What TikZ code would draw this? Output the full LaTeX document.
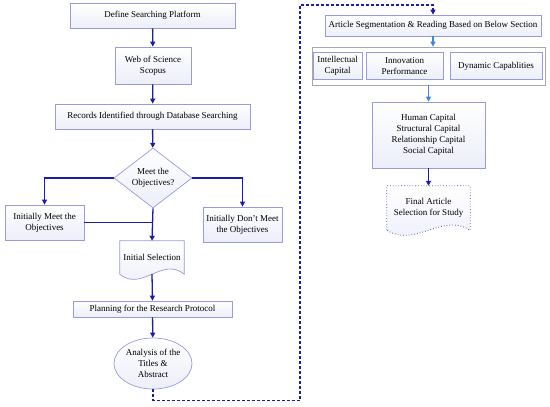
\documentclass[tikz,border=0pt]{standalone}
\usepackage{fontspec}
\setmainfont{Liberation Serif}
\usetikzlibrary{shapes.geometric, positioning, arrows.meta, shadows, backgrounds}
\definecolor{FlowBlue}{HTML}{1C1CA6}
\definecolor{FlowLight}{HTML}{3C8ADB}
\definecolor{BoxLine}{HTML}{9A9AE0}
\definecolor{BoxFill}{HTML}{ECEEF9}
\definecolor{GroupGray}{HTML}{A8A8A8}

% document outline behind a node: node, path options, wave offset
\newcommand{\docwave}[3]{%
  \begin{scope}[on background layer]
    \path[#2] (#1.south west) -- (#1.north west) -- (#1.north east) -- (#1.south east)
      .. controls +(-#3,-18) and +(#3,18) .. (#1.south west) -- cycle;
  \end{scope}}

\begin{document}
\begin{tikzpicture}[x=1pt, y=-1pt,
    box/.style={draw=BoxLine, line width=0.7pt, top color=white, bottom color=BoxFill,
      font=\fontsize{9}{11}\selectfont, align=center, inner sep=1pt},
    doctext/.style={font=\fontsize{9}{11}\selectfont, align=center, inner sep=1pt},
    flow/.style={-{Triangle[length=5pt,width=5pt]}, FlowBlue, line width=1.3pt},
    flowlight/.style={-{Triangle[length=5pt,width=5pt]}, FlowLight, line width=1.3pt},
    dashlink/.style={-{Triangle[length=5pt,width=5pt]}, FlowBlue, line width=1.1pt,
      dash pattern=on 3pt off 2pt}]
    \useasboundingbox (0,0) rectangle (550,407);

    % Left column
    \node[box, minimum width=165pt, minimum height=25pt] (define) at (152.5,15.5) {Define Searching Platform};
    
    \node[box, minimum width=76pt, minimum height=37pt] (wos) at (153,65.5) {Web of Science\\Scopus};
    
    \node[box, minimum width=195pt, minimum height=25pt] (records) at (152.5,116.5) {Records Identified through Database Searching};
    
    \node[box, diamond, aspect=1.3, inner sep=0pt, minimum width=78pt, minimum height=60pt] (meet) at (153,178) {Meet the\\Objectives?};
    
    \node[box, minimum width=79pt, minimum height=35pt] (initmeet) at (44.5,222.5) {Initially Meet the\\Objectives};
    
    \node[box, minimum width=79pt, minimum height=35pt] (initdont) at (242.5,224.5) {Initially Don't Meet\\the Objectives};
    
    \node[doctext, minimum width=64pt, minimum height=33pt] (initsel) at (152,257.5) {Initial Selection};
    \docwave{initsel}{draw=BoxLine, line width=0.7pt, top color=white, bottom color=BoxFill}{22}
    
    \node[box, minimum width=159pt, minimum height=16pt] (plan) at (152.5,309) {Planning for the Research Protocol};
    
    \node[box, ellipse, inner sep=0pt, minimum width=78pt, minimum height=51pt] (abs) at (153,363.5) {Analysis of the\\Titles \&\\Abstract};

    % Right column
    \node[box, minimum width=216pt, minimum height=21pt] (art) at (433,25.5) {Article Segmentation \& Reading Based on Below Section};
    
    \node[draw=GroupGray, line width=0.7pt, fill=white, minimum width=233pt, minimum height=38pt,
      drop shadow={shadow xshift=1.2pt, shadow yshift=-1.2pt, fill=gray!45}] (group) at (428.5,66) {};
    \node[box, minimum width=49pt, minimum height=27pt] (intel) at (337.5,66) {Intellectual\\Capital};
    \node[box, minimum width=77pt, minimum height=27pt] (innov) at (404.5,66) {Innovation\\Performance};
    \node[box, minimum width=92pt, minimum height=27pt] (dynamic) at (496,66) {Dynamic Capablities};
    
    \node[box, minimum width=113pt, minimum height=66pt] (human) at (428.5,135) {Human Capital\\Structural Capital\\Relationship Capital\\Social Capital};
    
    \node[doctext, minimum width=83pt, minimum height=44pt] (final) at (428.5,208) {Final Article\\Selection for Study};
    \docwave{final}{draw=FlowBlue!75, line width=0.8pt, dotted, top color=white, bottom color=BoxFill}{28}

    % Arrows
    \draw[flow] (define) -- (wos);
    \draw[flow] (wos) -- (records);
    \draw[flow] (records) -- (meet);
    \draw[flow] (meet.west) -| (initmeet.north);
    \draw[flow] (meet.east) -| (initdont.north);
    \draw[flow] (meet.south) -- (initsel.north);
    \draw[FlowBlue, line width=1.3pt] (initmeet.east) -- (initmeet.east -| meet.south);
    \draw[flow] (initsel.south) -- (plan.north);
    \draw[flow] (plan) -- (abs);
    
    \coordinate (dashbot) at (300,400.5);
    \coordinate (dashtop) at (300,5);
    \draw[dashlink] (abs.south) |- (dashbot) -- (dashtop) -| (art.north);
    
    \draw[flowlight] (art.south) -- (art.south |- group.north);
    \draw[flowlight] (group.south) -- (human.north);
    \draw[flow] (human) -- (final);
\end{tikzpicture}
\end{document}
